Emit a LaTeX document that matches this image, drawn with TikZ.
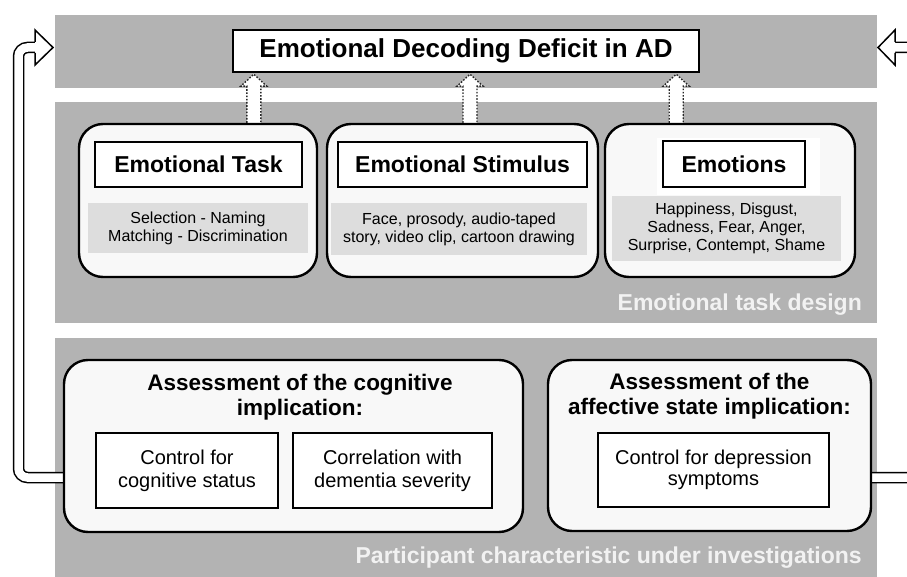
\documentclass[tikz,border=0pt]{standalone}
\usepackage{fontspec}
\setmainfont{Liberation Sans}
\usetikzlibrary{calc,backgrounds}

\definecolor{bandgray}{RGB}{179,179,179}
\definecolor{descgray}{RGB}{221,221,221}
\definecolor{boxfill}{RGB}{248,248,248}
\definecolor{labelwhite}{RGB}{242,242,242}

\tikzset{
  band/.style={fill=bandgray, draw=none},
  bigbox/.style={draw, line width=2.4pt, rounded corners=24pt, fill=boxfill,
    inner sep=0pt},
  titlebox/.style={draw, line width=2.4pt, fill=white, inner sep=0pt,
    font=\fontsize{23}{27}\selectfont\bfseries},
  descbox/.style={fill=descgray, inner sep=0pt, align=center,
    font=\fontsize{16}{18}\selectfont},
  headtext/.style={align=center, inner sep=0pt,
    font=\fontsize{22.5}{25.5}\selectfont\bfseries},
  subbox/.style={draw, line width=1.8pt, fill=white, inner sep=0pt,
    align=center, font=\fontsize{20}{23}\selectfont},
  bandlabel/.style={text=labelwhite, inner sep=0pt,
    font=\fontsize{23}{27}\selectfont\bfseries},
  feedback/.style={draw, line width=1.5pt, double=white,
    double distance=8.5pt, rounded corners=9pt},
  feedhead/.style={draw, line width=1.5pt, fill=white, line join=miter},
  blockarrow/.style={draw=black!85, fill=white, line width=1.4pt,
    dash pattern=on 1.6pt off 1.6pt},
}

\begin{document}
\begin{tikzpicture}[x=1pt, y=-1pt]
\useasboundingbox (0,0) rectangle (907,577);
\clip (0,0) rectangle (907,577);

% top result
\node[titlebox, minimum width=466pt, minimum height=42pt,
  font=\fontsize{26}{30}\selectfont\bfseries] (deficit) at (466,51)
  {Emotional Decoding Deficit in AD};

% emotional task design
\node[bigbox, minimum width=238pt, minimum height=153pt] (task) at (198,200.5) {};
\node[bigbox, minimum width=271pt, minimum height=153pt] (stim) at (462.5,200.5) {};
\node[bigbox, minimum width=250pt, minimum height=153pt] (emo) at (730,200.5) {};

\node[fill=white, minimum width=163pt, minimum height=57pt, inner sep=0pt]
  (emobg) at (738.5,166.5) {};

\node[titlebox, minimum width=207pt, minimum height=45pt] (taskT) at (198.5,164.5)
  {Emotional Task};
\node[titlebox, minimum width=249pt, minimum height=45pt] (stimT) at (462.5,164.5)
  {Emotional Stimulus};
\node[titlebox, minimum width=142pt, minimum height=46pt] (emoT) at (734,164)
  {Emotions};

\node[descbox, minimum width=220pt, minimum height=50pt] (taskD) at (198,228)
  {Selection - Naming\\Matching - Discrimination};
\node[descbox, minimum width=256pt, minimum height=52pt] (stimD) at (459,229)
  {Face, prosody, audio-taped\\story, video clip, cartoon drawing};
\node[descbox, minimum width=229pt, minimum height=65pt] (emoD) at (726.5,228.5)
  {Happiness, Disgust,\\Sadness, Fear, Anger,\\Surprise, Contempt, Shame};

% participant characteristics
\node[bigbox, minimum width=459pt, minimum height=172pt] (cog) at (293.5,446) {};
\node[bigbox, minimum width=323pt, minimum height=171pt] (aff) at (709.5,445.5) {};

\node[headtext] (cogT) at (300,397) {Assessment of the cognitive\\implication:};
\node[headtext] (affT) at (709.5,396) {Assessment of the\\affective state implication:};

\node[subbox, minimum width=182pt, minimum height=75pt] (ctrl) at (187,470.5)
  {Control for\\cognitive status};
\node[subbox, minimum width=199pt, minimum height=75pt] (corr) at (392.5,470.5)
  {Correlation with\\dementia severity};
\node[subbox, minimum width=231pt, minimum height=74pt,
  font=\fontsize{20}{20.5}\selectfont] (dep) at (713.5,470)
  {Control for depression\\symptoms};

% band labels
\node[bandlabel, anchor=base east] (designL) at (862,310) {Emotional task design};
\node[bandlabel, anchor=base east] (partL) at (862,563)
  {Participant characteristic under investigations};

\begin{scope}[on background layer]
  % grey bands
  \fill[band] (55,15) rectangle (877,88);
  \fill[band] (55,102) rectangle (877,323);
  \fill[band] (55,338) rectangle (877,577);

  % dotted block arrows into the result
  \coordinate (a1) at ($(deficit.south west)+(22,0)$);
  \coordinate (a2) at ($(deficit.south)+(4,0)$);
  \coordinate (a3) at ($(deficit.south east)+(-24,0)$);
  \foreach \ax/\bx in {a1/task, a2/stim, a3/emo} {
    \draw[blockarrow] ($(\ax |- \bx.north)+(-7,0)$) -- ($(\ax)+(-7,13)$)
      -- ($(\ax)+(-13,13)$) -- ($(\ax)+(0,1)$) -- ($(\ax)+(13,13)$)
      -- ($(\ax)+(7,13)$) -- ($(\ax |- \bx.north)+(7,0)$);
  }

  % feedback arrows
  \coordinate (lhead) at (35,47.5);
  \coordinate (rhead) at (895,47.5);
  \draw[feedback] ($(cog.west)+(2,31.5)$) -| (18.5,47.5) -- ($(lhead)+(1,0)$);
  \draw[feedhead] ($(lhead)+(0,-5.5)$) -- ($(lhead)+(0,-17.5)$)
    -- ($(lhead)+(18,0)$) -- ($(lhead)+(0,17.5)$) -- ($(lhead)+(0,5.5)$);
  \draw[feedback] ($(aff.east)+(-2,32)$) -| (925,47.5) -- ($(rhead)+(-1,0)$);
  \draw[feedhead] ($(rhead)+(0,-5.5)$) -- ($(rhead)+(0,-17.5)$)
    -- ($(rhead)+(-17,0)$) -- ($(rhead)+(0,17.5)$) -- ($(rhead)+(0,5.5)$);
\end{scope}
\end{tikzpicture}
\end{document}
